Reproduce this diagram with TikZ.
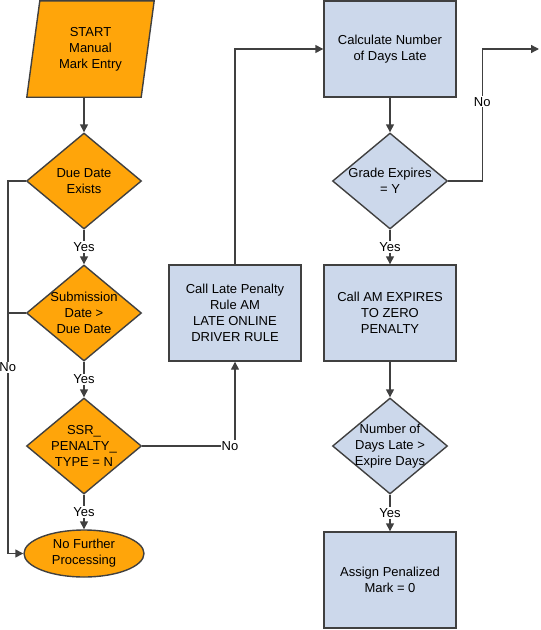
\documentclass[tikz,border=0pt]{standalone}
\usepackage{fontspec}
\setmainfont{Liberation Sans}
\usepackage{xcolor}
\usepackage{tikz}
\usetikzlibrary{arrows.meta,shapes.geometric,backgrounds}

\definecolor{markorange}{RGB}{255,165,10}
\definecolor{stepblue}{RGB}{204,216,235}
\definecolor{linegray}{RGB}{64,64,64}

\begin{document}
\begin{tikzpicture}[x=1pt, y=-1pt,
  font=\fontsize{13}{16}\selectfont,
  box/.style={draw=linegray, line width=1.4pt, fill=stepblue, minimum width=132pt, minimum height=96pt, align=center},
  decision/.style={diamond, draw=linegray, line width=1.4pt, minimum width=115pt, minimum height=96pt, inner sep=0pt},
  flow/.style={draw=linegray, line width=1.4pt, -{Triangle[length=8pt,width=8pt]}},
  wire/.style={draw=linegray, line width=1.4pt},
  edgelab/.style={fill=white, inner sep=1pt}]
\useasboundingbox (0,0) rectangle (541,630);

% Left column: checks on the entered mark
\node[minimum width=114pt, minimum height=96pt, align=center] (start) at (90.5,49) {START\\Manual\\Mark Entry};
\begin{scope}[on background layer]
  \draw[linegray, line width=1.4pt, fill=markorange] ([xshift=6.5pt]start.north west) -- ([xshift=6.5pt]start.north east)
    -- ([xshift=-6.5pt]start.south east) -- ([xshift=-6.5pt]start.south west) -- cycle;
\end{scope}
\node[decision, fill=markorange, label={[align=center]center:{Due Date\\Exists}}] (due) at (84,181) {};
\node[decision, fill=markorange, label={[align=center]center:{Submission\\Date >\\Due Date}}] (sub) at (84,313) {};
\node[decision, fill=markorange, label={[align=center]center:{SSR\_\\PENALTY\_\\TYPE = N}}] (pen) at (84,446) {};
\node[ellipse, draw=linegray, line width=1.4pt, fill=markorange, minimum width=120pt, minimum height=47pt, inner sep=0pt, align=center] (proc) at (84,553.5) {No Further\\Processing};

% Middle and right columns: penalty rules
\node[box] (late) at (235,313) {Call Late Penalty\\Rule AM\\LATE ONLINE\\DRIVER RULE};
\node[box] (calc) at (390,49) {Calculate Number\\of Days Late};
\node[decision, fill=stepblue, label={[align=center]center:{Grade Expires\\= Y}}] (grade) at (390,181) {};
\node[box] (zero) at (390,313) {Call AM EXPIRES\\TO ZERO\\PENALTY};
\node[decision, fill=stepblue, label={[align=center]center:{Number of\\Days Late >\\Expire Days}}] (days) at (390,446) {};
\node[box] (assign) at (390,580) {Assign Penalized\\Mark = 0};
\coordinate (exit) at (539,49);

% Plain arrows
\draw[flow] (start.south -| due.north) -- (due.north);
\foreach \a/\b in {calc/grade, zero/days} {
  \draw[flow] (\a) -- (\b);
}

% Yes branches
\foreach \a/\b in {due/sub, sub/pen, pen/proc, grade/zero, days/assign} {
  \draw[flow] (\a) -- node[edgelab] {Yes} (\b);
}

% No branches
\draw[flow] (due.west) -- ++(-18,0) |- node[edgelab, pos=0.25] {No} (proc.west);
\draw[wire] (sub.west) -- ++(-18,0);
\draw[flow] (pen.east) -| node[edgelab, pos=0.5, xshift=-5pt] {No} (late.south);
\draw[flow] (late.north) |- (calc.west);
\draw[flow] (grade.east) -- ++(34,0) |- node[edgelab, pos=0.3] {No} (exit);

\end{tikzpicture}
\end{document}
